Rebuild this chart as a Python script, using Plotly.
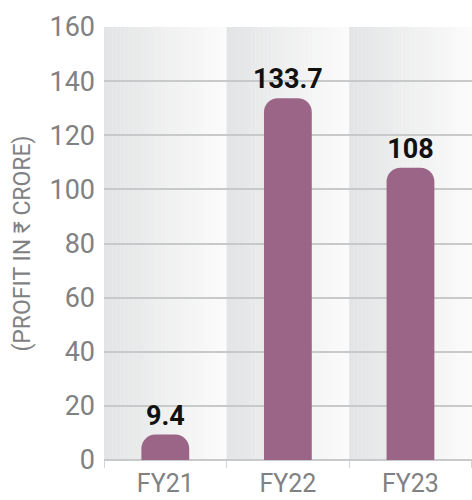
import plotly.graph_objects as go

categories = ["FY21", "FY22", "FY23"]
profit = [9.4, 133.7, 108]
value_labels = ["9.4", "133.7", "108"]
y_ticks = [0, 20, 40, 60, 80, 100, 120, 140, 160]

BAR = "#9b6588"
GRID = "#c8c9ca"
TXT = "#808183"
FONT = "Roboto"

fig = go.Figure()
fig.add_trace(go.Bar(
    x=categories, y=profit, text=value_labels, textposition="outside",
    constraintext="none",
    textfont=dict(family=FONT, size=27, color="#111111", weight="bold"),
    marker=dict(color=BAR, cornerradius=14, line=dict(width=0)),
    width=0.39, cliponaxis=False, hoverinfo="skip",
))

# gradient background bands (dark left -> light right) per category
shapes = []
N = 30
c0 = (0xe3, 0xe4, 0xe5)
c1 = (0xfb, 0xfb, 0xfb)
for i in range(len(categories)):
    for k in range(N):
        t = k / (N - 1)
        c = tuple(int(round(a + (b - a) * t)) for a, b in zip(c0, c1))
        shapes.append(dict(
            type="rect", xref="x", yref="paper",
            x0=i - 0.5 + k / N, x1=i - 0.5 + (k + 1) / N + 0.002,
            y0=0, y1=1, fillcolor="rgb(%d,%d,%d)" % c,
            line=dict(width=0), layer="below",
        ))

fig.update_layout(
    width=472, height=500,
    margin=dict(l=104, r=0, t=27, b=40),
    paper_bgcolor="white", plot_bgcolor="white",
    showlegend=False, bargap=0.6,
    shapes=shapes,
    font=dict(family=FONT, color=TXT),
)
fig.update_yaxes(
    range=[0, 160], tickvals=y_ticks, showgrid=True, gridcolor=GRID, gridwidth=2,
    zeroline=True, zerolinecolor=GRID, zerolinewidth=2,
    tickfont=dict(family=FONT, size=27, color=TXT), ticklabelstandoff=8,
    title=dict(text="(PROFIT IN ₹ CRORE)", font=dict(family=FONT, size=23, color=TXT), standoff=12),
    layer="below traces", fixedrange=True,
)
fig.update_xaxes(
    tickfont=dict(family=FONT, size=25, color=TXT),
    ticks="outside", tickson="boundaries", ticklen=7, tickcolor="#d4d5d6", tickwidth=1,
    ticklabelstandoff=6,
    showgrid=False, showline=False, fixedrange=True,
)

fig.write_html("out.html")
